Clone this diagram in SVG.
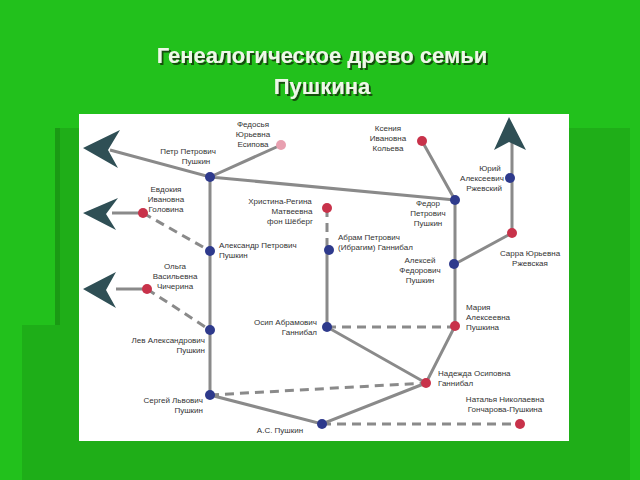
<svg xmlns="http://www.w3.org/2000/svg" width="640" height="480" viewBox="0 0 640 480">
<defs>
<filter id="shadow" x="-10%" y="-30%" width="120%" height="160%"><feDropShadow dx="2" dy="2" stdDeviation="0.6" flood-color="#14500f"/></filter>
</defs>
<style>
.t{font-family:"Liberation Sans",Arial,sans-serif;font-size:8px;fill:#333}
.ti{font-family:"Liberation Sans",Arial,sans-serif;font-size:22px;font-weight:bold;fill:#eef8e8;filter:url(#shadow)}
.l{stroke:#8a8a8a;stroke-width:3;fill:none}
.d{stroke:#8a8a8a;stroke-width:3;fill:none;stroke-dasharray:9 6}
.b{fill:#2e3a8c}
.r{fill:#c8324a}
.a{fill:#2f4f55}
</style>
<rect width="640" height="480" fill="#22c11c"/>
<rect x="55" y="128" width="30" height="352" fill="#1a9a14"/>
<rect x="22" y="325" width="40" height="155" fill="#1eae18"/>
<rect x="60" y="128" width="570" height="352" fill="#1fae18"/>
<rect x="79" y="114" width="490" height="327" fill="#ffffff"/>
<text class="ti" x="322" y="63" text-anchor="middle">Генеалогическое древо семьи</text>
<text class="ti" x="322" y="94" text-anchor="middle">Пушкина</text>
<g id="connectors">
<path class="l" d="M110 150L210 177L281 145M210 177L455 200L422 141M455 200V326L426 383L327 327V250M455 264L512 233V178V140M210 177V395L322 424L426 383M112 213H143M116 289H147"/>
<path class="d" d="M143 213L210 251M147 289L210 330M327 208V250M327 327H455M210 395L426 383M322 424H520"/>
</g>
<g id="arrows">
<polygon class="a" points="83,148 120,130 108,150 118,168"/>
<polygon class="a" points="83,213 118,198 106,214 116,230"/>
<polygon class="a" points="83,289 116,272 106,290 116,308"/>
<polygon class="a" points="509,117 494,150 509,142 526,150"/>
</g>
<g id="petr"><circle class="b" cx="210" cy="177" r="5"/><text class="t" x="188" y="154" text-anchor="middle">Петр Петрович</text><text class="t" x="196" y="164" text-anchor="middle">Пушкин</text></g>
<g id="fedosya"><circle fill="#e8a0b0" cx="281" cy="145" r="5"/><text class="t" x="253" y="127" text-anchor="middle">Федосья</text><text class="t" x="253" y="137" text-anchor="middle">Юрьевна</text><text class="t" x="253" y="147" text-anchor="middle">Есипова</text></g>
<g id="kseniya"><circle class="r" cx="422" cy="141" r="5"/><text class="t" x="388" y="131" text-anchor="middle">Ксения</text><text class="t" x="388" y="141" text-anchor="middle">Ивановна</text><text class="t" x="388" y="151" text-anchor="middle">Кольева</text></g>
<g id="yuri"><circle class="b" cx="510" cy="178" r="5"/><text class="t" x="490" y="171" text-anchor="middle">Юрий</text><text class="t" x="482" y="181" text-anchor="middle">Алексеевич</text><text class="t" x="484" y="191" text-anchor="middle">Ржевский</text></g>
<g id="fedor"><circle class="b" cx="455" cy="200" r="5"/><text class="t" x="428" y="206" text-anchor="middle">Федор</text><text class="t" x="428" y="216" text-anchor="middle">Петрович</text><text class="t" x="428" y="226" text-anchor="middle">Пушкин</text></g>
<g id="evdokiya"><circle class="r" cx="143" cy="213" r="5"/><text class="t" x="166" y="192" text-anchor="middle">Евдокия</text><text class="t" x="166" y="202" text-anchor="middle">Ивановна</text><text class="t" x="166" y="212" text-anchor="middle">Головина</text></g>
<g id="christina"><circle class="r" cx="327" cy="208" r="5"/><text class="t" x="280" y="204" text-anchor="middle">Христина-Регина</text><text class="t" x="292" y="214" text-anchor="middle">Матвеевна</text><text class="t" x="290" y="224" text-anchor="middle">фон Шёберг</text></g>
<g id="abram"><circle class="b" cx="329" cy="250" r="5"/><text class="t" x="338" y="240">Абрам Петрович</text><text class="t" x="338" y="250">(Ибрагим) Ганнибал</text></g>
<g id="aleksandr"><circle class="b" cx="210" cy="251" r="5"/><text class="t" x="219" y="248">Александр Петрович</text><text class="t" x="219" y="258">Пушкин</text></g>
<g id="sarra"><circle class="r" cx="512" cy="233" r="5"/><text class="t" x="530" y="256" text-anchor="middle">Сарра Юрьевна</text><text class="t" x="530" y="266" text-anchor="middle">Ржевская</text></g>
<g id="aleksei"><circle class="b" cx="454" cy="264" r="5"/><text class="t" x="420" y="263" text-anchor="middle">Алексей</text><text class="t" x="420" y="273" text-anchor="middle">Федорович</text><text class="t" x="420" y="283" text-anchor="middle">Пушкин</text></g>
<g id="olga"><circle class="r" cx="147" cy="289" r="5"/><text class="t" x="175" y="269" text-anchor="middle">Ольга</text><text class="t" x="175" y="279" text-anchor="middle">Васильевна</text><text class="t" x="175" y="289" text-anchor="middle">Чичерина</text></g>
<g id="osip"><circle class="b" cx="327" cy="327" r="5"/><text class="t" x="317" y="325" text-anchor="end">Осип Абрамович</text><text class="t" x="317" y="335" text-anchor="end">Ганнибал</text></g>
<g id="maria"><circle class="r" cx="455" cy="326" r="5"/><text class="t" x="466" y="310">Мария</text><text class="t" x="466" y="320">Алексеевна</text><text class="t" x="466" y="330">Пушкина</text></g>
<g id="lev"><circle class="b" cx="210" cy="330" r="5"/><text class="t" x="205" y="343" text-anchor="end">Лев Александрович</text><text class="t" x="205" y="353" text-anchor="end">Пушкин</text></g>
<g id="nadezhda"><circle class="r" cx="426" cy="383" r="5"/><text class="t" x="438" y="376">Надежда Осиповна</text><text class="t" x="438" y="386">Ганнибал</text></g>
<g id="sergei"><circle class="b" cx="210" cy="395" r="5"/><text class="t" x="203" y="403" text-anchor="end">Сергей Львович</text><text class="t" x="203" y="413" text-anchor="end">Пушкин</text></g>
<g id="natalia"><circle class="r" cx="520" cy="424" r="5"/><text class="t" x="505" y="402" text-anchor="middle">Наталья Николаевна</text><text class="t" x="505" y="412" text-anchor="middle">Гончарова-Пушкина</text></g>
<g id="as"><circle class="b" cx="322" cy="424" r="5"/><text class="t" x="280" y="433" text-anchor="middle">А.С. Пушкин</text></g>
</svg>
